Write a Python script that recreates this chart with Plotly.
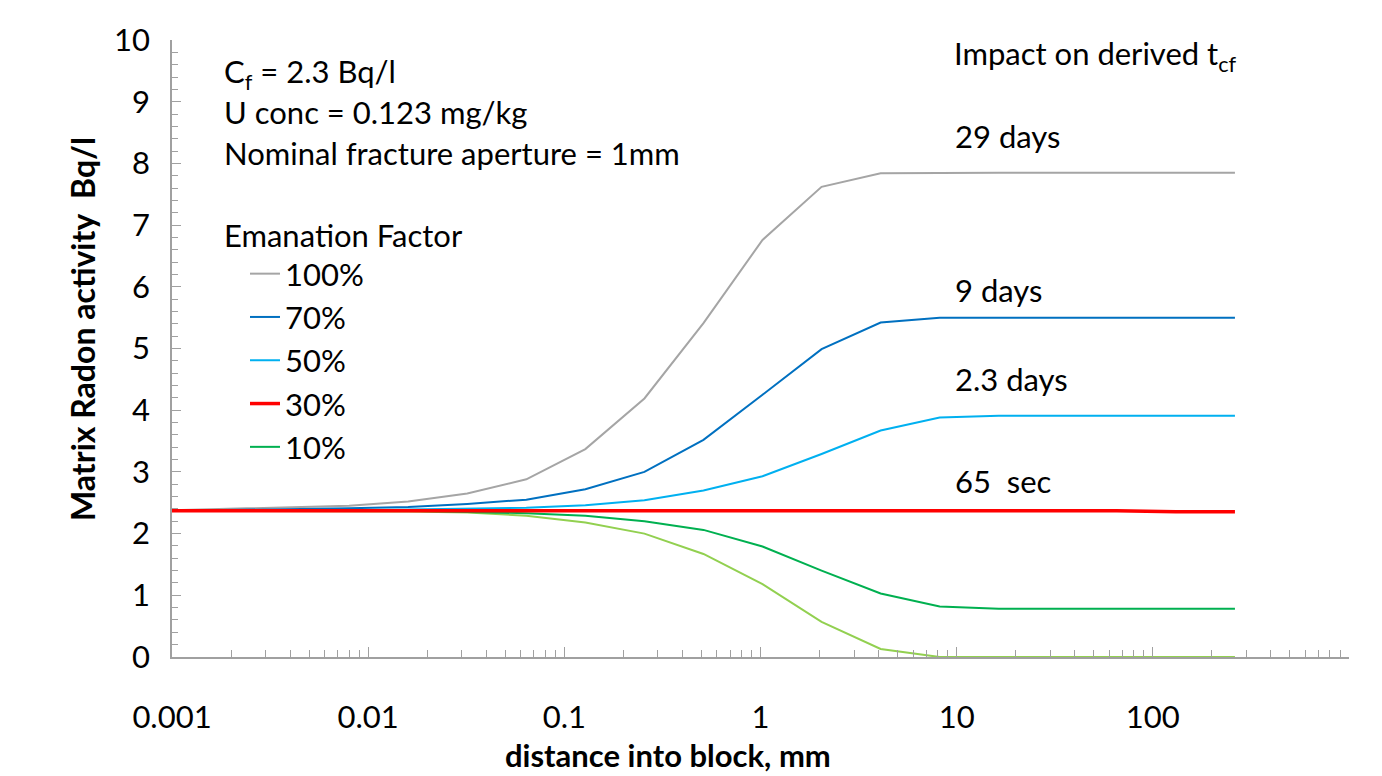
import plotly.graph_objects as go
import numpy as np

# distance into block, mm (doubling steps)
distance_mm = [0.001 * 2 ** k for k in range(19)]

ef_100 = [2.38, 2.40, 2.42, 2.45, 2.52, 2.65, 2.88, 3.37, 4.19, 5.41, 6.76, 7.62, 7.84, 7.85, 7.85, 7.85, 7.85, 7.85, 7.85]
ef_70 = [2.37, 2.38, 2.39, 2.41, 2.43, 2.48, 2.55, 2.72, 3.00, 3.52, 4.25, 4.99, 5.42, 5.50, 5.50, 5.50, 5.50, 5.50, 5.50]
ef_50 = [2.37, 2.37, 2.38, 2.38, 2.39, 2.40, 2.42, 2.46, 2.54, 2.70, 2.93, 3.29, 3.67, 3.88, 3.91, 3.91, 3.91, 3.91, 3.91]
ef_30 = [2.37, 2.37, 2.37, 2.37, 2.37, 2.37, 2.37, 2.37, 2.37, 2.37, 2.37, 2.37, 2.37, 2.37, 2.37, 2.37, 2.37, 2.355, 2.355]
ef_10 = [2.37, 2.37, 2.37, 2.37, 2.37, 2.35, 2.33, 2.29, 2.20, 2.06, 1.79, 1.40, 1.03, 0.82, 0.78, 0.78, 0.78, 0.78, 0.78]
ef_0 = [2.37, 2.37, 2.37, 2.37, 2.36, 2.34, 2.29, 2.18, 2.00, 1.67, 1.18, 0.57, 0.13, 0.0, 0.0, 0.0, 0.0, 0.0, 0.0]

series_names = ["100%", "70%", "50%", "30%", "10%", ""]
series_values = [ef_100, ef_70, ef_50, ef_30, ef_10, ef_0]
series_colors = ["#A5A5A5", "#0070C0", "#00B0F0", "#FF0000", "#00B050", "#92D050"]
series_widths = [2, 2, 2, 3.5, 2, 2]

x_tick_vals = [0.001, 0.01, 0.1, 1, 10, 100]
x_tick_text = ["0.001", "0.01", "0.1", "1", "10", "100"]

impact_labels = ["29 days", "9 days", "2.3 days", "65  sec"]
impact_label_y = [8.45, 5.95, 4.51, 2.86]

FONT = "Lato"
FS = 31

# plot area in page pixels (page has an 8px body offset)
PL, PT, PW, PH = 164, 32, 1177, 617
W, H = 1382, 776

fig = go.Figure()
order = [5, 0, 1, 2, 4, 3]
for i in order:
    fig.add_trace(go.Scatter(
        x=distance_mm, y=series_values[i], mode="lines",
        name=series_names[i],
        line=dict(color=series_colors[i], width=series_widths[i]),
        showlegend=(series_names[i] != ""),
        legendgroup="g%d" % i,
        legendrank=i + 1,
    ))

fig.update_layout(
    width=W, height=H,
    margin=dict(l=PL, r=W - PL - PW, t=PT, b=H - PT - PH, autoexpand=False),
    paper_bgcolor="white", plot_bgcolor="white",
    font=dict(family=FONT, size=FS, color="#000000"),
    showlegend=True,
    legend=dict(
        x=0.062, y=(657 - 247) / 617, xanchor="left", yanchor="top",
        font=dict(family=FONT, size=FS, color="#000000"),
        bgcolor="rgba(0,0,0,0)", tracegroupgap=0,
        itemwidth=30,
    ),
    xaxis=dict(
        type="log", range=[-3, 3],
        tickvals=x_tick_vals, ticktext=x_tick_text,
        ticks="inside", ticklen=10, tickcolor="#A0A0A0", tickwidth=1,
        minor=dict(ticks="inside", ticklen=7, tickcolor="#A0A0A0", dtick="D1", showgrid=False),
        showline=True, linecolor="#A0A0A0", linewidth=1.5,
        showgrid=False, zeroline=False,
        tickfont=dict(family=FONT, size=FS),
        ticklabelstandoff=32,
    ),
    yaxis=dict(
        range=[0, 10], dtick=1,
        ticks="inside", ticklen=9, tickcolor="#A0A0A0", tickwidth=1,
        minor=dict(ticks="inside", ticklen=6, tickcolor="#A0A0A0", dtick=0.2, showgrid=False),
        showline=True, linecolor="#A0A0A0", linewidth=1.5,
        showgrid=False, zeroline=False,
        tickfont=dict(family=FONT, size=FS),
        ticklabelstandoff=14,
    ),
)

annotations = [
    dict(text="C<sub>f</sub> = 2.3 Bq/l", x=(222 - 172) / 1177, y=(657 - 73) / 617),
    dict(text="U conc = 0.123 mg/kg", x=(222 - 172) / 1177, y=(657 - 112) / 617),
    dict(text="Nominal fracture aperture = 1mm", x=(222 - 172) / 1177, y=(657 - 153) / 617),
    dict(text="Emanation Factor", x=(222 - 172) / 1177, y=(657 - 235) / 617),
    dict(text="Impact on derived t<sub>cf</sub>", x=(952 - 172) / 1177, y=(657 - 55) / 617),
]
for a in annotations:
    fig.add_annotation(xref="paper", yref="paper", xanchor="left", yanchor="middle",
                       showarrow=False, font=dict(family=FONT, size=FS, color="#000000"), **a)

for lbl, yv in zip(impact_labels, impact_label_y):
    fig.add_annotation(x=np.log10(9.6), y=yv, xref="x", yref="y", text=lbl,
                       xanchor="left", yanchor="middle", showarrow=False,
                       font=dict(family=FONT, size=FS, color="#000000"))

# axis titles (positioned as in reference)
fig.add_annotation(text="<b>distance into block, mm</b>", xref="paper", yref="paper",
                   x=(668 - 172) / 1177, y=-(755 - 657) / 617, xanchor="center", yanchor="middle",
                   showarrow=False, font=dict(family=FONT, size=FS, color="#000000"))
fig.add_annotation(text="<b>Matrix Radon activity  Bq/l</b>", xref="paper", yref="paper",
                   x=-(172 - 82) / 1177, y=(657 - 329) / 617, xanchor="center", yanchor="middle",
                   textangle=-90, showarrow=False, font=dict(family=FONT, size=32, color="#000000"))

fig.write_html("out.html")
